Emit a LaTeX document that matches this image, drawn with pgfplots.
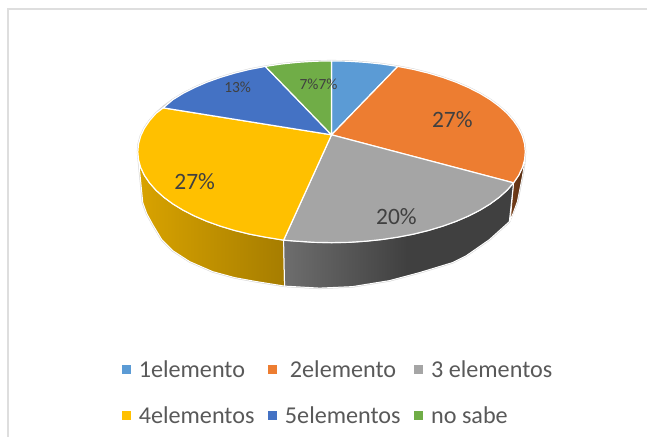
\documentclass[border=0pt]{standalone}
\usepackage{fontspec}
\setmainfont{Carlito}
\usepackage{pgfplots}
\pgfplotsset{compat=1.18}
\definecolor{c1}{HTML}{5B9BD5}
\definecolor{c2}{HTML}{ED7D31}
\definecolor{c3}{HTML}{A5A5A5}
\definecolor{c4}{HTML}{FFC000}
\definecolor{c5}{HTML}{4472C4}
\definecolor{c6}{HTML}{70AD47}
\definecolor{legtxt}{HTML}{595959}
\definecolor{labtxt}{HTML}{404040}
\definecolor{frameline}{HTML}{DEDEDE}
\pgfdeclarehorizontalshading{graywall}{100bp}{rgb(0bp)=(.43,.43,.43);rgb(25bp)=(.43,.43,.43);rgb(52bp)=(.25,.25,.25);rgb(75bp)=(.25,.25,.25);rgb(100bp)=(.25,.25,.25)}
\pgfplotsset{wedge/.style={fill=#1,draw=white,line width=1.2pt,line join=round}}
\begin{document}
\begin{tikzpicture}
\begin{axis}[
  scale only axis, width=648pt, height=438pt,
  xmin=0, xmax=648, ymin=0, ymax=438, y dir=reverse,
  axis lines=none, clip=false,
  legend columns=3,
  legend cell align=left,
  legend image code/.code={\path[#1,draw=none] (0pt,-4.5pt) rectangle (9pt,4.5pt);},
  legend style={draw=none, fill=none, at={(axis cs:122,359)}, anchor=north west,
    font=\fontsize{24.2}{27}\selectfont\color{legtxt},
    inner sep=0pt, outer sep=0pt,
    /tikz/row sep=23.5pt,
    /tikz/every even column/.style={column sep=11.5pt},
    /tikz/every odd column/.style={column sep=6pt}},
]
% page extent
\addplot[forget plot,draw=none] coordinates {(0,0) (648,438)};
% chart frame
\addplot[forget plot,frameline,line width=1.8pt] coordinates {(648,9) (8,9) (8,438)};
% outer silhouette
\addplot[forget plot,fill=white,draw=black!17,line width=2pt,line join=round] coordinates {
 (138,152) (138.7,144.1) (140.9,136.2) (144.6,128.4) (149.7,120.9) (156.2,113.5) (164,106.5) (173.1,99.8) (183.4,93.5) (194.8,87.7) (207.3,82.3) (220.7,77.5) (235,73.2) (250,69.5) (265.7,66.5) (281.8,64.1) (298.3,62.4) (315.1,61.3) (332,61)
 (348.9,61.3) (365.7,62.4) (382.2,64.1) (398.3,66.5) (414,69.5) (429,73.2) (443.3,77.5) (456.7,82.3) (469.2,87.7) (480.6,93.5) (490.9,99.8) (500,106.5) (507.8,113.5) (514.3,120.9) (519.4,128.4) (523.1,136.2) (525.3,144.1) (526,152)
 (525,165) (523,177) (518,202) (510,222) (490,240) (467,256) (453,263) (420,273) (390,281) (353,287) (320,288.5) (285,286.5)
 (257,282) (235,278) (213,272) (190,262) (173,251) (162,240) (153,225) (147,214) (143,203) (140,173) (138,152)};
% brown sliver on the right
\addplot[forget plot,draw=white,line width=.8pt,line join=round,left color=c2!50!black,right color=c2!35!black] coordinates {
 (514.3,183.1) (519.4,175.6) (523.1,167.8) (525.3,159.9) (525,165) (523,177) (518,202) (511,221) (514.3,183.1)};
% yellow wall
\addplot[forget plot,draw=white,line width=1pt,line join=round,left color=c4!85!black!100,right color=c4!65!black] coordinates {
 (138,152) (138.7,159.9) (140.9,167.8) (144.6,175.6) (149.7,183.1) (156.2,190.5) (164,197.5) (173.1,204.2) (183.4,210.5) (194.8,216.3) (207.3,221.7) (220.7,226.5) (235,230.8) (250,234.5) (265.7,237.5) (284,240.5)
 (285,286.5) (257,282) (235,278) (213,272) (190,262) (173,251) (162,240) (153,225) (147,214) (143,203) (140,173) (138,152)};
% grey wall
\addplot[forget plot,draw=white,line width=1pt,line join=round,shading=graywall] coordinates {
 (284,240.5) (298.3,241.6) (315.1,242.7) (332,243) (348.9,242.7) (365.7,241.6) (382.2,239.9) (398.3,237.5) (414,234.5) (429,230.8) (443.3,226.5) (456.7,221.7) (469.2,216.3) (480.6,210.5) (490.9,204.2) (500,197.5) (507.8,190.5) (514.3,183.1)
 (510,222) (490,240) (467,256) (453,263) (420,273) (390,281) (353,287) (320,288.5) (285,286.5) (284,240.5)};
% top face
\addplot[wedge=c1] coordinates {(332,135) (332,61) (348.9,61.3) (365.7,62.4) (382.2,64.1) (398.3,66.5) (332,135)};
\addlegendentry{1elemento}
\addplot[wedge=c2] coordinates {(332,135) (398.3,66.5) (414,69.5) (429,73.2) (443.3,77.5) (456.7,82.3) (469.2,87.7) (480.6,93.5) (490.9,99.8) (500,106.5) (507.8,113.5) (514.3,120.9) (519.4,128.4) (523.1,136.2) (525.3,144.1) (526,152) (525.3,159.9) (523.1,167.8) (519.4,175.6) (514.3,183.1) (332,135)};
\addlegendentry{\hspace{5pt}2elemento}
\addplot[wedge=c3] coordinates {(332,135) (514.3,183.1) (507.8,190.5) (500,197.5) (490.9,204.2) (480.6,210.5) (469.2,216.3) (456.7,221.7) (443.3,226.5) (429,230.8) (414,234.5) (398.3,237.5) (382.2,239.9) (365.7,241.6) (348.9,242.7) (332,243) (315.1,242.7) (298.3,241.6) (284,240.5) (332,135)};
\addlegendentry{3 elementos}
\addplot[wedge=c4] coordinates {(332,135) (284,240.5) (265.7,237.5) (250,234.5) (235,230.8) (220.7,226.5) (207.3,221.7) (194.8,216.3) (183.4,210.5) (173.1,204.2) (164,197.5) (156.2,190.5) (149.7,183.1) (144.6,175.6) (140.9,167.8) (138.7,159.9) (138,152) (138.7,144.1) (140.9,136.2) (144.6,128.4) (149.7,120.9) (156.2,113.5) (163.5,108) (332,135)};
\addlegendentry{4elementos}
\addplot[wedge=c5] coordinates {(332,135) (163.5,108) (173.1,99.8) (183.4,93.5) (194.8,87.7) (207.3,82.3) (220.7,77.5) (235,73.2) (250,69.5) (265.7,66.5) (332,135)};
\addlegendentry{5elementos}
\addplot[wedge=c6] coordinates {(332,135) (265.7,66.5) (281.8,64.1) (298.3,62.4) (315.1,61.3) (332,61) (332,135)};
\addlegendentry{no sabe}
% percentage labels
\node[text=labtxt,font=\fontsize{23.5}{23}\selectfont] at (axis cs:453,120) {27\%};
\node[text=labtxt,font=\fontsize{23.5}{23}\selectfont] at (axis cs:195,182) {27\%};
\node[text=labtxt,font=\fontsize{23.5}{23}\selectfont] at (axis cs:397,217) {20\%};
\node[text=labtxt,font=\fontsize{15.5}{16}\selectfont] at (axis cs:238,87) {13\%};
\node[text=labtxt,font=\fontsize{15.5}{16}\selectfont] at (axis cs:319,84) {7\%7\%};
\end{axis}
\end{tikzpicture}
\end{document}
